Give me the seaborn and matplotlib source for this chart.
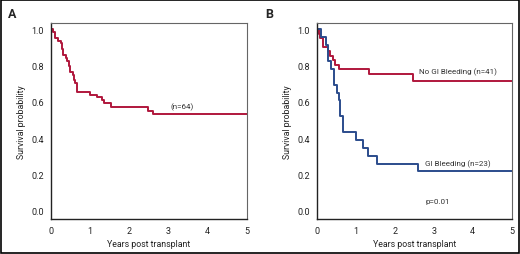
import pandas as pd
import matplotlib
matplotlib.use('Agg')
import matplotlib.pyplot as plt
import seaborn as sns
from matplotlib.patches import Rectangle

# panel A - all patients (n=64)
all_time = [0, 0.05, 0.12, 0.18, 0.25, 0.28, 0.32, 0.38, 0.42, 0.46, 0.50, 0.56, 0.59, 0.62, 0.66,
            1.0, 1.18, 1.30, 1.36, 1.55, 2.48, 2.60, 5.0]
all_surv = [1.0, 0.984, 0.953, 0.938, 0.922, 0.891, 0.859, 0.844, 0.828, 0.797, 0.766, 0.75, 0.719, 0.703, 0.656,
            0.641, 0.625, 0.609, 0.594, 0.573, 0.551, 0.533, 0.533]

# panel B - no GI bleeding (n=41)
nogi_time = [0, 0.06, 0.09, 0.15, 0.28, 0.34, 0.43, 0.47, 0.58, 1.35, 2.47, 5.0]
nogi_surv = [1.0, 0.976, 0.951, 0.902, 0.878, 0.854, 0.829, 0.805, 0.780, 0.756, 0.718, 0.718]

# panel B - GI bleeding (n=23)
gi_time = [0, 0.11, 0.25, 0.29, 0.37, 0.44, 0.53, 0.56, 0.60, 0.67, 1.02, 1.18, 1.32, 1.54, 2.6, 5.0]
gi_surv = [1.0, 0.957, 0.913, 0.826, 0.783, 0.696, 0.652, 0.609, 0.522, 0.435, 0.391, 0.348, 0.304, 0.261, 0.217, 0.217]

red = '#B0173C'
blue = '#2B4C8C'

sns.set_style('white')
plt.rcParams['font.family'] = ['Roboto', 'DejaVu Sans']

fig = plt.figure(figsize=(5.2, 2.55), dpi=100)
axA = fig.add_axes([0.0975, 0.137, 0.377, 0.769])
axB = fig.add_axes([0.609, 0.137, 0.375, 0.769])

df_a = pd.DataFrame({'t': all_time, 's': all_surv})
df_b1 = pd.DataFrame({'t': nogi_time, 's': nogi_surv})
df_b2 = pd.DataFrame({'t': gi_time, 's': gi_surv})

sns.lineplot(data=df_a, x='t', y='s', drawstyle='steps-post', estimator=None, color=red, lw=1.4, ax=axA)
sns.lineplot(data=df_b1, x='t', y='s', drawstyle='steps-post', estimator=None, color=red, lw=1.4, ax=axB)
sns.lineplot(data=df_b2, x='t', y='s', drawstyle='steps-post', estimator=None, color=blue, lw=1.4, ax=axB)

for ax in (axA, axB):
    ax.set_xlim(0, 5)
    ax.set_ylim(-0.045, 1.035)
    ax.set_xticks([0, 1, 2, 3, 4, 5])
    ax.set_yticks([0, 0.2, 0.4, 0.6, 0.8, 1.0])
    ax.set_yticklabels(['0.0', '0.2', '0.4', '0.6', '0.8', '1.0'])
    ax.tick_params(axis='both', length=3, width=0.8, labelsize=6.5, color='#333333',
                   labelcolor='#222222', pad=2, direction='out')
    ax.set_xlabel('Years post transplant', fontsize=6.3, labelpad=3, color='#222222')
    ax.set_ylabel('Survival probability', fontsize=6.3, labelpad=4, color='#222222')
    for s in ('left', 'bottom'):
        ax.spines[s].set_color('#222222')
        ax.spines[s].set_linewidth(1.0)
    for s in ('top', 'right'):
        ax.spines[s].set_color('#666666')
        ax.spines[s].set_linewidth(0.8)

axA.text(3.35, 0.575, '(n=64)', fontsize=5.8, ha='center', va='center', color='#333333')
axB.text(3.63, 0.768, 'No GI Bleeding (n=41)', fontsize=5.8, ha='center', va='center', color='#333333')
axB.text(3.62, 0.263, 'GI Bleeding (n=23)', fontsize=5.8, ha='center', va='center', color='#333333')
axB.text(3.1, 0.055, 'p=0.01', fontsize=5.8, ha='center', va='center', color='#333333')

fig.text(8 / 520, 1 - 14 / 255, 'A', fontsize=9, fontweight='bold', va='center', ha='left')
fig.text(265 / 520, 1 - 14 / 255, 'B', fontsize=9, fontweight='bold', va='center', ha='left')

fig.patches.append(Rectangle((0.002, 0.004), 0.996, 0.992, transform=fig.transFigure,
                             fill=False, edgecolor='black', lw=1.2))

fig.savefig('out.png', dpi=100)
